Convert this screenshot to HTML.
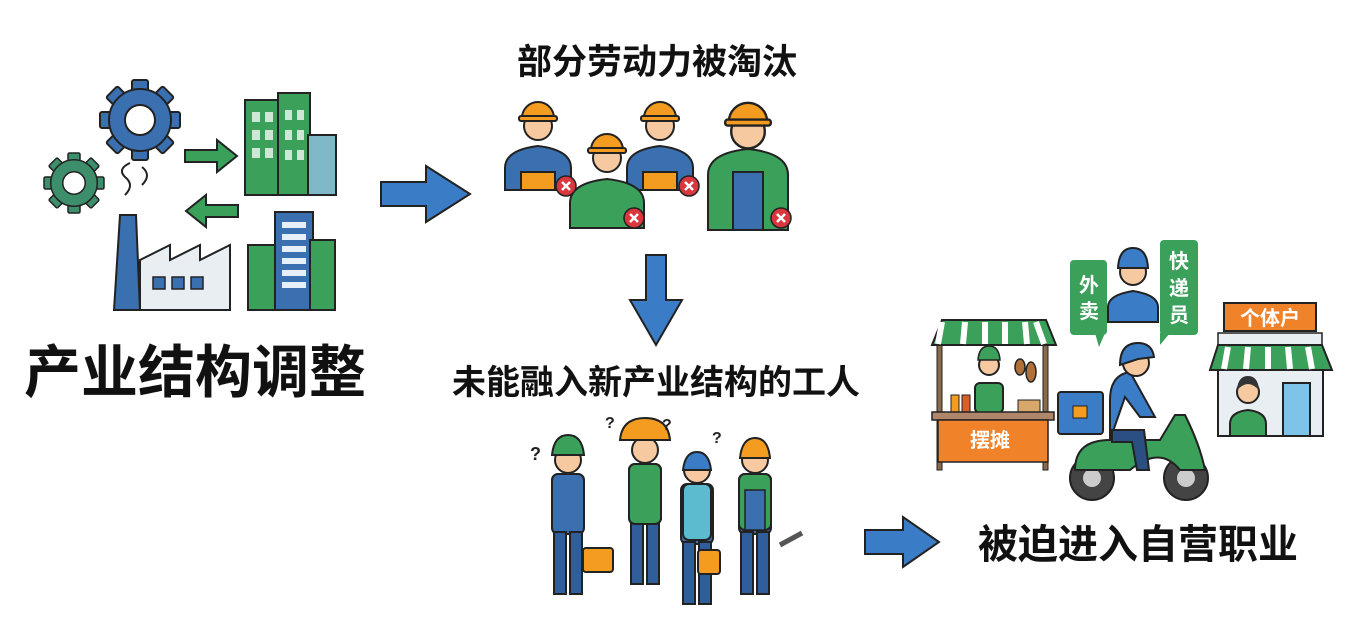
<!DOCTYPE html>
<html><head><meta charset="utf-8"><style>
html,body{margin:0;padding:0;background:#fff;}
svg{display:block}
text{font-family:"Liberation Sans","Noto Sans CJK SC",sans-serif;font-weight:bold}
</style></head><body>
<svg width="1350" height="638" viewBox="0 0 1350 638" xmlns="http://www.w3.org/2000/svg">
<defs>
<g id="hatw">
 <circle cx="0" cy="8" r="14" fill="#f6c9a0" stroke="#222" stroke-width="2"/>
 <path d="M-16,0 A16,16 0 0 1 16,0 Z" fill="#f39c1f" stroke="#222" stroke-width="2"/>
 <rect x="-19" y="-2" width="38" height="5" rx="2" fill="#f39c1f" stroke="#222" stroke-width="2"/>
</g>
<g id="xc"><circle r="10" fill="#d9363e" stroke="#222" stroke-width="1.5"/><path d="M-4,-4L4,4M4,-4L-4,4" stroke="#fff" stroke-width="2.5"/></g>
<g id="gear">
 <g stroke="#222" stroke-width="2">
 <rect x="-8" y="-40" width="16" height="80" rx="2"/><rect x="-8" y="-40" width="16" height="80" rx="2" transform="rotate(45)"/>
 <rect x="-8" y="-40" width="16" height="80" rx="2" transform="rotate(90)"/><rect x="-8" y="-40" width="16" height="80" rx="2" transform="rotate(135)"/>
 <circle r="31"/></g>
 <circle r="15" fill="#fff" stroke="#222" stroke-width="2"/>
</g>
<g id="bw">
 <rect x="-16" y="24" width="32" height="60" rx="6" fill="#3a6fb0" stroke="#222" stroke-width="2"/>
 <rect x="-14" y="82" width="12" height="62" fill="#2f5e9a" stroke="#222" stroke-width="2"/>
 <rect x="2" y="82" width="12" height="62" fill="#2f5e9a" stroke="#222" stroke-width="2"/>
 <circle cx="0" cy="10" r="13" fill="#f6c9a0" stroke="#222" stroke-width="2"/>
</g>
</defs>

<g fill="#3a6fb0" transform="translate(140,120)"><use href="#gear"/></g>
<g fill="#3d8f6b" transform="translate(74,183) scale(0.75)"><use href="#gear"/></g>
<path d="M185,150 h32 v-10 l20,16 -20,16 v-10 h-32z" fill="#3aa05a" stroke="#222" stroke-width="2"/>
<path d="M238,205 h-32 v-10 l-20,16 20,16 v-10 h32z" fill="#3aa05a" stroke="#222" stroke-width="2"/>
<rect x="245" y="100" width="50" height="95" fill="#3aa05a" stroke="#222" stroke-width="2"/>
<rect x="278" y="93" width="32" height="102" fill="#3aa05a" stroke="#222" stroke-width="2"/>
<rect x="308" y="135" width="28" height="60" fill="#7fb8c8" stroke="#222" stroke-width="2"/>
<g fill="#cfe8d6"><rect x="252" y="112" width="8" height="10"/><rect x="265" y="112" width="8" height="10"/><rect x="252" y="130" width="8" height="10"/><rect x="265" y="130" width="8" height="10"/><rect x="252" y="148" width="8" height="10"/><rect x="265" y="148" width="8" height="10"/><rect x="285" y="110" width="7" height="10"/><rect x="297" y="110" width="7" height="10"/><rect x="285" y="130" width="7" height="10"/><rect x="297" y="130" width="7" height="10"/><rect x="285" y="150" width="7" height="10"/><rect x="297" y="150" width="7" height="10"/></g>
<path d="M120,215 h16 l4,95 h-26z" fill="#3a6fb0" stroke="#222" stroke-width="2"/>
<path d="M140,310 v-50 l30,-15 v15 l30,-15 v15 l30,-15 v65z" fill="#e8eef2" stroke="#222" stroke-width="2"/>
<path d="M125,195 q10,-10 0,-18 q-8,-8 5,-14" fill="none" stroke="#222" stroke-width="2"/>
<path d="M142,185 q10,-10 0,-18" fill="none" stroke="#222" stroke-width="2"/>
<g fill="#3a6fb0" stroke="#222" stroke-width="1.5"><rect x="153" y="277" width="12" height="12"/><rect x="172" y="277" width="12" height="12"/><rect x="191" y="277" width="12" height="12"/></g>
<rect x="248" y="245" width="32" height="65" fill="#3aa05a" stroke="#222" stroke-width="2"/>
<rect x="275" y="212" width="38" height="98" fill="#3a6fb0" stroke="#222" stroke-width="2"/>
<rect x="310" y="240" width="25" height="70" fill="#3aa05a" stroke="#222" stroke-width="2"/>
<g fill="#e6eef7"><rect x="282" y="222" width="24" height="6"/><rect x="282" y="234" width="24" height="6"/><rect x="282" y="246" width="24" height="6"/><rect x="282" y="258" width="24" height="6"/><rect x="282" y="270" width="24" height="6"/><rect x="282" y="282" width="24" height="6"/></g>
<text x="195" y="392" font-size="57" text-anchor="middle" fill="#111">产业结构调整</text>

<path d="M381,182 h45 v-16 l44,28 -44,28 v-16 h-45z" fill="#3a7cc6" stroke="#222" stroke-width="2"/>

<text x="657" y="74" font-size="35" text-anchor="middle" fill="#111">部分劳动力被淘汰</text>

<g stroke="#222" stroke-width="2">
 <path d="M505,190 v-22 q0,-18 33,-22 q33,4 33,22 v22z" fill="#3a6fb0"/>
 <path d="M627,190 v-22 q0,-18 33,-22 q33,4 33,22 v22z" fill="#3a6fb0"/>
 <path d="M708,230 v-55 q0,-22 40,-26 q40,4 40,26 v55z" fill="#3aa05a"/>
 <rect x="733" y="172" width="30" height="58" fill="#3a6fb0"/>
 <path d="M570,228 v-25 q0,-20 37,-24 q37,4 37,24 v25z" fill="#3aa05a"/>
 <rect x="521" y="172" width="34" height="18" fill="#f39c1f"/>
 <rect x="643" y="172" width="34" height="18" fill="#f39c1f"/>
</g>
<g transform="translate(538,118)"><use href="#hatw"/></g>
<g transform="translate(660,118)"><use href="#hatw"/></g>
<g transform="translate(748,122) scale(1.2)"><use href="#hatw"/></g>
<g transform="translate(607,150)"><use href="#hatw"/></g>
<g transform="translate(566,186)"><use href="#xc"/></g>
<g transform="translate(689,186)"><use href="#xc"/></g>
<g transform="translate(634,218)"><use href="#xc"/></g>
<g transform="translate(781,218)"><use href="#xc"/></g>

<path d="M646,255 h20 v45 h16 l-26,45 -26,-45 h16z" fill="#3a7cc6" stroke="#222" stroke-width="2"/>

<text x="656" y="394" font-size="34" text-anchor="middle" fill="#111">未能融入新产业结构的工人</text>

<g transform="translate(568,450)"><use href="#bw"/></g>
<g transform="translate(645,440)"><use href="#bw"/></g>
<g transform="translate(697,460)"><use href="#bw"/></g>
<g transform="translate(755,450)"><use href="#bw"/></g>
<rect x="629" y="464" width="32" height="60" rx="6" fill="#3aa05a" stroke="#222" stroke-width="2"/>
<rect x="683" y="484" width="28" height="56" rx="6" fill="#5bbcd0" stroke="#222" stroke-width="2"/>
<rect x="739" y="474" width="32" height="56" rx="6" fill="#3aa05a" stroke="#222" stroke-width="2"/>
<rect x="745" y="490" width="20" height="40" fill="#3a6fb0" stroke="#222" stroke-width="1.5"/>
<path d="M620,440 q2,-22 25,-22 q23,0 25,22z" fill="#f39c1f" stroke="#222" stroke-width="2"/>
<path d="M552,455 q2,-20 16,-20 q14,0 16,20z" fill="#3aa05a" stroke="#222" stroke-width="2"/>
<path d="M683,470 q2,-18 14,-18 q12,0 14,18z" fill="#3a7cc6" stroke="#222" stroke-width="2"/>
<path d="M740,458 q2,-20 15,-20 q13,0 15,20z" fill="#f39c1f" stroke="#222" stroke-width="2"/>
<rect x="583" y="548" width="30" height="24" rx="3" fill="#f39c1f" stroke="#222" stroke-width="2"/>
<rect x="698" y="550" width="22" height="24" rx="3" fill="#f39c1f" stroke="#222" stroke-width="2"/>
<path d="M780,545 l22,-12" stroke="#555" stroke-width="5"/>
<text x="530" y="460" font-size="18" fill="#222">?</text>
<text x="605" y="428" font-size="16" fill="#222">?</text>
<text x="662" y="430" font-size="16" fill="#222">?</text>
<text x="712" y="443" font-size="16" fill="#222">?</text>

<path d="M865,530 h38 v-13 l36,25 -36,25 v-13 h-38z" fill="#3a7cc6" stroke="#222" stroke-width="2"/>
<text x="1138" y="558" font-size="40" text-anchor="middle" fill="#111">被迫进入自营职业</text>

<rect x="937" y="345" width="5" height="125" fill="#8a6a4a" stroke="#222" stroke-width="1"/>
<rect x="1043" y="345" width="5" height="125" fill="#8a6a4a" stroke="#222" stroke-width="1"/>
<path d="M932,345 l10,-25 h104 l10,25z" fill="#3aa05a" stroke="#222" stroke-width="2"/>
<path d="M942,322 l-4,22 M965,322 l-2,22 M985,322 v22 M1005,322 v22 M1025,322 l2,22 M1036,322 l8,22" stroke="#fff" stroke-width="6"/>
<rect x="975" y="383" width="28" height="30" rx="5" fill="#3aa05a" stroke="#222" stroke-width="2"/>
<circle cx="989" cy="365" r="10" fill="#f6c9a0" stroke="#222" stroke-width="2"/>
<path d="M978,360 q1,-14 11,-14 q10,0 11,14z" fill="#3aa05a" stroke="#222" stroke-width="1.5"/>
<ellipse cx="1020" cy="367" rx="5" ry="8" fill="#b0703a" stroke="#222" stroke-width="1.5"/>
<ellipse cx="1031" cy="372" rx="5" ry="10" fill="#b0703a" stroke="#222" stroke-width="1.5"/>
<rect x="951" y="395" width="8" height="18" fill="#f39c1f" stroke="#222" stroke-width="1"/>
<rect x="962" y="395" width="8" height="18" fill="#d9602a" stroke="#222" stroke-width="1"/>
<rect x="1018" y="400" width="22" height="13" fill="#d7a86a" stroke="#222" stroke-width="1"/>
<rect x="932" y="412" width="122" height="8" fill="#b0866a" stroke="#222" stroke-width="1.5"/>
<rect x="938" y="420" width="110" height="42" fill="#f0822a" stroke="#222" stroke-width="1.5"/>
<text x="990" y="447" font-size="20" text-anchor="middle" fill="#fff">摆摊</text>

<rect x="1070" y="260" width="37" height="75" rx="4" fill="#3aa05a"/>
<path d="M1095,333 l4,14 6,-14z" fill="#3aa05a"/>
<text x="1089" y="292" font-size="20" text-anchor="middle" fill="#fff">外</text>
<text x="1089" y="318" font-size="20" text-anchor="middle" fill="#fff">卖</text>
<rect x="1160" y="240" width="38" height="95" rx="4" fill="#3aa05a"/>
<path d="M1160,333 v12 l10,-12z" fill="#3aa05a"/>
<text x="1179" y="268" font-size="20" text-anchor="middle" fill="#fff">快</text>
<text x="1179" y="295" font-size="20" text-anchor="middle" fill="#fff">递</text>
<text x="1179" y="322" font-size="20" text-anchor="middle" fill="#fff">员</text>
<path d="M1108,322 v-15 q0,-12 25,-16 q25,4 25,16 v15z" fill="#3a7cc6" stroke="#222" stroke-width="2"/>
<circle cx="1133" cy="272" r="13" fill="#f6c9a0" stroke="#222" stroke-width="2"/>
<path d="M1118,268 q1,-20 15,-20 q14,0 15,20z" fill="#3a7cc6" stroke="#222" stroke-width="2"/>

<circle cx="1092" cy="478" r="22" fill="#444" stroke="#222" stroke-width="2"/><circle cx="1092" cy="478" r="9" fill="#ccc"/>
<circle cx="1186" cy="478" r="22" fill="#444" stroke="#222" stroke-width="2"/><circle cx="1186" cy="478" r="9" fill="#ccc"/>
<path d="M1075,470 q0,-30 35,-30 h50 l15,-25 h10 q15,30 20,55 h-25 q-20,-25 -50,0z" fill="#3aa05a" stroke="#222" stroke-width="2"/>
<rect x="1058" y="392" width="45" height="42" rx="3" fill="#3a7cc6" stroke="#222" stroke-width="2"/>
<rect x="1073" y="406" width="14" height="12" fill="#f39c1f" stroke="#222" stroke-width="1"/>
<path d="M1110,440 v-40 q0,-25 20,-28 l25,45 h-15 l-15,-20z" fill="#3a7cc6" stroke="#222" stroke-width="2"/>
<path d="M1112,430 h32 l5,40 h-12 l-5,-28 h-20z" fill="#2a4f80" stroke="#222" stroke-width="2"/>
<circle cx="1136" cy="363" r="13" fill="#f6c9a0" stroke="#222" stroke-width="2"/>
<path d="M1120,365 q0,-22 18,-22 q14,0 16,14 l-16,2z" fill="#3a7cc6" stroke="#222" stroke-width="2"/>

<rect x="1224" y="303" width="92" height="28" fill="#f0822a" stroke="#222" stroke-width="2"/>
<text x="1270" y="325" font-size="20" text-anchor="middle" fill="#fff">个体户</text>
<rect x="1218" y="333" width="104" height="12" fill="#e8eef2" stroke="#222" stroke-width="1.5"/>
<rect x="1218" y="368" width="105" height="68" fill="#e8eef2" stroke="#222" stroke-width="2"/>
<path d="M1210,370 l8,-25 h104 l10,25z" fill="#3aa05a" stroke="#222" stroke-width="2"/>
<path d="M1228,347 l-4,22 M1248,347 l-2,22 M1268,347 v22 M1288,347 l2,22 M1308,347 l4,22" stroke="#fff" stroke-width="6"/>
<rect x="1283" y="383" width="27" height="53" fill="#7ec3e8" stroke="#222" stroke-width="2"/>
<path d="M1230,436 v-12 q0,-12 18,-14 q18,2 18,14 v12z" fill="#3aa05a" stroke="#222" stroke-width="2"/>
<circle cx="1248" cy="392" r="11" fill="#f6c9a0" stroke="#222" stroke-width="2"/>
<path d="M1237,390 q1,-14 11,-14 q10,0 11,14 q-6,-6 -11,-6 q-5,0 -11,6z" fill="#333"/>
</svg>
</body></html>
